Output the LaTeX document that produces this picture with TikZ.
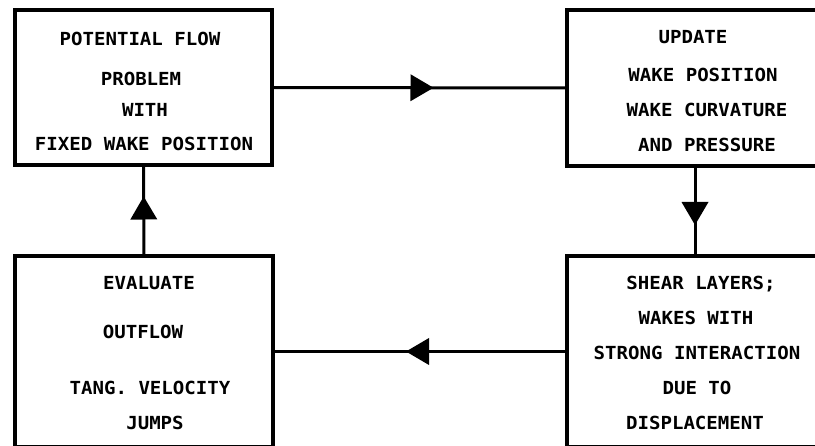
\documentclass[tikz,border=0pt]{standalone}
\usepackage{fontspec}
\newfontfamily\lbl[FakeStretch=1.06]{DejaVu Sans Mono}
\usetikzlibrary{decorations.markings}
\begin{document}
\begin{tikzpicture}[x=1pt,y=-1pt,
  box/.style={draw, line width=3.4pt, inner sep=0pt, outer sep=0pt, anchor=north west},
  txt/.style={font=\lbl\bfseries\fontsize{18}{18}\selectfont, inner sep=0pt, anchor=base},
  flow/.style={line width=3pt, postaction={decorate}, decoration={markings,
    mark=at position 0.5 with {\fill (-9pt,-13.5pt) -- (14pt,0pt) -- (-9pt,13.5pt) -- cycle;}}}]
\useasboundingbox (0,0) rectangle (815,446);
\clip (0,0) rectangle (815,446);
% the four process blocks (right and lower ones run past the frame)
\node[box, minimum width=257pt, minimum height=155pt] (tl) at (15,10) {};
\node[box, minimum width=256pt, minimum height=156pt] (tr) at (567,10) {};
\node[box, minimum width=256pt, minimum height=191pt] (br) at (567,256) {};
\node[box, minimum width=258pt, minimum height=191pt] (bl) at (15,256) {};
% loop connectors
\draw[flow] (tl.east) -- (tr.west);
\draw[flow] (tr.south) -- (br.north);
\draw[flow] (br.west) -- (bl.east);
\draw[flow] (bl.north) -- (tl.south);
% labels
\node[txt] (t1) at (140,46) {POTENTIAL FLOW};
\node[txt] (t2) at (141,86) {PROBLEM};
\node[txt] (t3) at (145,117) {WITH};
\node[txt] (t4) at (144,151) {FIXED WAKE POSITION};
\node[txt] (u1) at (693,44) {UPDATE};
\node[txt] (u2) at (703,82) {WAKE POSITION};
\node[txt] (u3) at (707,117) {WAKE CURVATURE};
\node[txt] (u4) at (707,152) {AND PRESSURE};
\node[txt] (s1) at (701,290) {SHEAR LAYERS;};
\node[txt] (s2) at (696,325) {WAKES WITH};
\node[txt] (s3) at (697,360) {STRONG INTERACTION};
\node[txt] (s4) at (697,395) {DUE TO};
\node[txt] (s5) at (695,430) {DISPLACEMENT};
\node[txt] (e1) at (149,290) {EVALUATE};
\node[txt] (e2) at (143,339) {OUTFLOW};
\node[txt] (e3) at (150,395) {TANG. VELOCITY};
\node[txt] (e4) at (155,430) {JUMPS};
\end{tikzpicture}
\end{document}
